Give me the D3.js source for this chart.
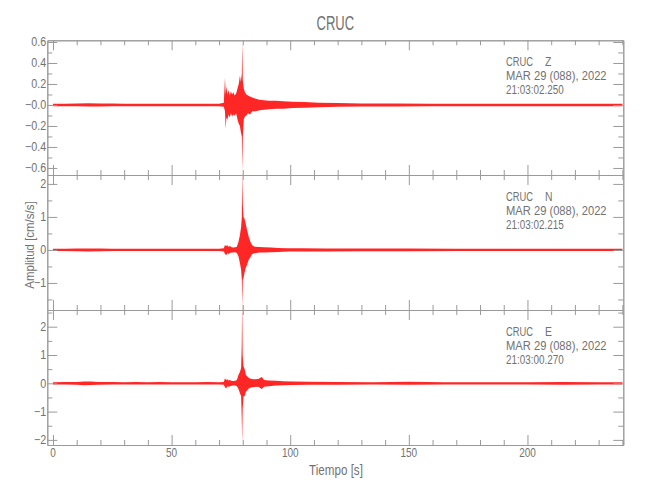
<!DOCTYPE html>
<html><head><meta charset="utf-8">
<script src="https://cdn.jsdelivr.net/npm/d3@7"></script>
<style>
body{margin:0;background:#fff}
text{font-family:"Liberation Sans",Arial,sans-serif;fill:#727272}
</style>
</head><body>
<svg id="c" width="650" height="500"></svg>
<script>
// ---------- data ----------
const title = "CRUC";
const xLabel = "Tiempo [s]";
const yLabel = "Amplitud [cm/s/s]";
const xMajorTicks = [0, 50, 100, 150, 200];
const xMinorTicks = [10,20,30,40,60,70,80,90,110,120,130,140,160,170,180,190,210,220,230,240];

const channels = ["Z", "N", "E"];
const dateLabel = "MAR 29 (088), 2022";
const startTimes = ["21:03:02.250", "21:03:02.215", "21:03:00.270"];

// y tick values / labels per channel
const yMajorZ = [-0.6,-0.4,-0.2,0,0.2,0.4,0.6];
const yLabelsZ = ["\u22120.6","\u22120.4","\u22120.2","\u22120.0","0.2","0.4","0.6"];
const yMinorZ = [-0.5,-0.3,-0.1,0.1,0.3,0.5];
const yMajorN = [-1,0,1,2];
const yLabelsN = ["\u22121","0","1","2"];
const yMinorN = [-1.5,-0.5,0.5,1.5];
const yMajorE = [-2,-1,0,1,2];
const yLabelsE = ["\u22122","\u22121","0","1","2"];
const yMinorE = [-1.5,-0.5,0.5,1.5,2.5];

// envelope of each trace (time [s], upper, lower)
const tZ  = [0,5,10,15,20,25,30,35,40,45,50,55,60,65,70,72.0,72.5,72.8,73.1,73.5,74.0,74.5,75.0,75.5,76.0,76.6,77.2,77.8,78.3,78.8,79.2,79.6,79.8,80.0,80.4,80.9,81.5,82.2,83.0,84.0,85.5,87,89,91,94,97,101,106,112,120,130,145,160,180,200,220,240];
const upZ = [.011,.012,.013,.016,.015,.013,.011,.012,.011,.012,.011,.012,.011,.012,.012,.02,.26,.1,.18,.1,.14,.09,.13,.1,.12,.09,.11,.16,.2,.28,.22,.3,.6,.24,.16,.12,.1,.09,.08,.07,.06,.05,.045,.04,.04,.035,.03,.028,.022,.018,.014,.014,.012,.011,.011,.011,.011];
const loZ = [-.011,-.012,-.013,-.015,-.014,-.013,-.011,-.012,-.011,-.012,-.011,-.011,-.011,-.011,-.012,-.018,-.06,-.23,-.12,-.14,-.09,-.12,-.08,-.11,-.09,-.1,-.08,-.14,-.18,-.2,-.26,-.3,-.63,-.32,-.14,-.11,-.1,-.08,-.09,-.06,-.06,-.05,-.045,-.04,-.035,-.035,-.03,-.027,-.022,-.018,-.014,-.014,-.012,-.011,-.011,-.011,-.011];

const tN  = [0,5,10,15,20,25,30,35,40,45,50,55,60,65,70,72.0,72.5,73.0,73.5,74.0,74.6,75.3,76.0,76.8,77.5,78.2,78.8,79.3,79.6,79.8,80.0,80.3,80.7,81.2,81.8,82.5,83.2,84.0,85,87,89,92,95,99,105,115,130,150,170,190,210,240];
const upN = [.032,.035,.04,.045,.04,.035,.035,.035,.032,.035,.032,.035,.032,.035,.035,.05,.15,.12,.14,.1,.12,.08,.07,.08,.1,.25,.45,.7,1.0,2.4,1.4,1.0,.95,.8,.6,.4,.25,.14,.1,.09,.08,.07,.06,.05,.05,.045,.04,.04,.033,.033,.033,.033];
const loN = [-.032,-.035,-.04,-.045,-.04,-.035,-.035,-.035,-.032,-.035,-.032,-.035,-.032,-.035,-.035,-.05,-.12,-.16,-.1,-.12,-.09,-.08,-.08,-.07,-.09,-.2,-.4,-.6,-.9,-1.72,-.9,-.85,-.7,-.55,-.45,-.3,-.22,-.12,-.1,-.08,-.08,-.07,-.06,-.05,-.05,-.045,-.04,-.04,-.033,-.033,-.033,-.033];

const tE  = [0,5,10,13,16,19,25,30,35,40,45,50,55,60,65,70,72.0,72.5,73.0,73.5,74.0,74.6,75.3,76.0,76.8,77.5,78.2,78.8,79.3,79.55,79.75,79.95,80.3,80.8,81.3,81.8,82.5,83.5,85,86.5,88,89,91,94,97,101,108,120,135,150,165,180,200,215,230,240];
const upE = [.04,.045,.05,.065,.06,.05,.045,.04,.045,.04,.045,.04,.04,.04,.045,.04,.05,.18,.12,.14,.1,.12,.08,.08,.09,.12,.3,.4,.55,1.3,2.9,1.0,.6,.5,.3,.25,.2,.15,.14,.15,.22,.12,.1,.09,.07,.06,.055,.05,.04,.055,.04,.04,.04,.05,.04,.04];
const loE = [-.04,-.045,-.05,-.065,-.06,-.05,-.045,-.04,-.045,-.04,-.045,-.04,-.04,-.04,-.045,-.04,-.05,-.14,-.18,-.1,-.12,-.1,-.09,-.08,-.08,-.1,-.2,-.35,-.45,-1.2,-2.1,-.9,-.47,-.45,-.3,-.25,-.18,-.15,-.13,-.12,-.2,-.12,-.1,-.08,-.07,-.06,-.05,-.05,-.04,-.055,-.04,-.04,-.04,-.05,-.04,-.04];

const yDomains = [[-0.667, 0.616], [-1.82, 2.27], [-2.18, 2.59]];

// ---------- layout ----------
const svg = d3.select("#c");
const left = 47.3, right = 623.3;
const panelEdges = [40.3, 175, 310, 445];
const axisColor = "#9a9a9a";
const traceColor = "#ff0000";

const x = d3.scaleLinear().domain([-2.4, 240.4]).range([left, right]);

// condensed text helper (the reference font is narrow)
function ctext(parent, px, py, str, size, sx, anchor, rot) {
  return parent.append("text")
    .attr("transform", `translate(${px},${py})${rot ? ` rotate(${rot})` : ""} scale(${sx},1)`)
    .attr("font-size", size).attr("text-anchor", anchor || "start")
    .style("white-space", "pre").text(str);
}

const panels = [
  {t: tZ, up: upZ, lo: loZ, major: yMajorZ, labels: yLabelsZ, minor: yMinorZ},
  {t: tN, up: upN, lo: loN, major: yMajorN, labels: yLabelsN, minor: yMinorN},
  {t: tE, up: upE, lo: loE, major: yMajorE, labels: yLabelsE, minor: yMinorE}
];

function styleAxis(g) {
  g.selectAll("path.domain").attr("stroke", axisColor).attr("stroke-width", 1);
  g.selectAll(".tick line").attr("stroke", axisColor).attr("stroke-width", 1);
  g.selectAll(".tick text").remove();
}

panels.forEach((p, i) => {
  const top = panelEdges[i], bottom = panelEdges[i + 1];
  const y = d3.scaleLinear().domain(yDomains[i]).range([bottom, top]);

  // trace (envelope drawn as filled band)
  const pts = p.t.map((t, k) => ({t, u: p.up[k], l: p.lo[k]}));
  const area = d3.area().x(d => x(d.t)).y0(d => y(d.l)).y1(d => y(d.u));
  svg.append("path").datum(pts).attr("d", area)
    .attr("fill", traceColor).attr("fill-opacity", 0.85).attr("stroke", "none");

  // axes: ticks on all four sides
  const gB = svg.append("g").attr("transform", `translate(0,${bottom})`);
  gB.call(d3.axisBottom(x).tickValues(xMajorTicks).tickSize(-10).tickSizeOuter(0)); styleAxis(gB);
  const gB2 = svg.append("g").attr("transform", `translate(0,${bottom})`);
  gB2.call(d3.axisBottom(x).tickValues(xMinorTicks).tickSize(-5).tickSizeOuter(0)); styleAxis(gB2);
  const gT = svg.append("g").attr("transform", `translate(0,${top})`);
  gT.call(d3.axisTop(x).tickValues(xMajorTicks).tickSize(-10).tickSizeOuter(0)); styleAxis(gT);
  const gT2 = svg.append("g").attr("transform", `translate(0,${top})`);
  gT2.call(d3.axisTop(x).tickValues(xMinorTicks).tickSize(-5).tickSizeOuter(0)); styleAxis(gT2);

  const gL = svg.append("g").attr("transform", `translate(${left},0)`);
  gL.call(d3.axisLeft(y).tickValues(p.major).tickSize(-10).tickSizeOuter(0)); styleAxis(gL);
  const gL2 = svg.append("g").attr("transform", `translate(${left},0)`);
  gL2.call(d3.axisLeft(y).tickValues(p.minor).tickSize(-5).tickSizeOuter(0)); styleAxis(gL2);
  const gR = svg.append("g").attr("transform", `translate(${right},0)`);
  gR.call(d3.axisRight(y).tickValues(p.major).tickSize(-10).tickSizeOuter(0)); styleAxis(gR);
  const gR2 = svg.append("g").attr("transform", `translate(${right},0)`);
  gR2.call(d3.axisRight(y).tickValues(p.minor).tickSize(-5).tickSizeOuter(0)); styleAxis(gR2);

  // y tick labels
  const gy = svg.append("g");
  p.major.forEach((d, k) => ctext(gy, left - 1, y(d) + 4.3, p.labels[k], 12.5, 0.86, "end"));

  // station annotation
  const ga = svg.append("g");
  ctext(ga, 506, top + 25.7, title, 13, 0.72, "start");
  ctext(ga, 545, top + 25.7, channels[i], 13, 0.8, "start");
  ctext(ga, 506, top + 39.5, dateLabel, 13, 0.86, "start");
  ctext(ga, 506, top + 53.5, startTimes[i], 13, 0.76, "start");
});

// x tick labels (bottom panel)
const gx = svg.append("g");
xMajorTicks.forEach(d => ctext(gx, x(d), 457, String(d), 12.5, 0.8, "middle"));

// title and axis titles
ctext(svg, (left + right) / 2, 30, title, 21, 0.62, "middle");
ctext(svg, 336, 475, xLabel, 14, 0.83, "middle");
ctext(svg, 34, 245, yLabel, 13.5, 0.85, "middle", -90);
</script>
</body></html>
